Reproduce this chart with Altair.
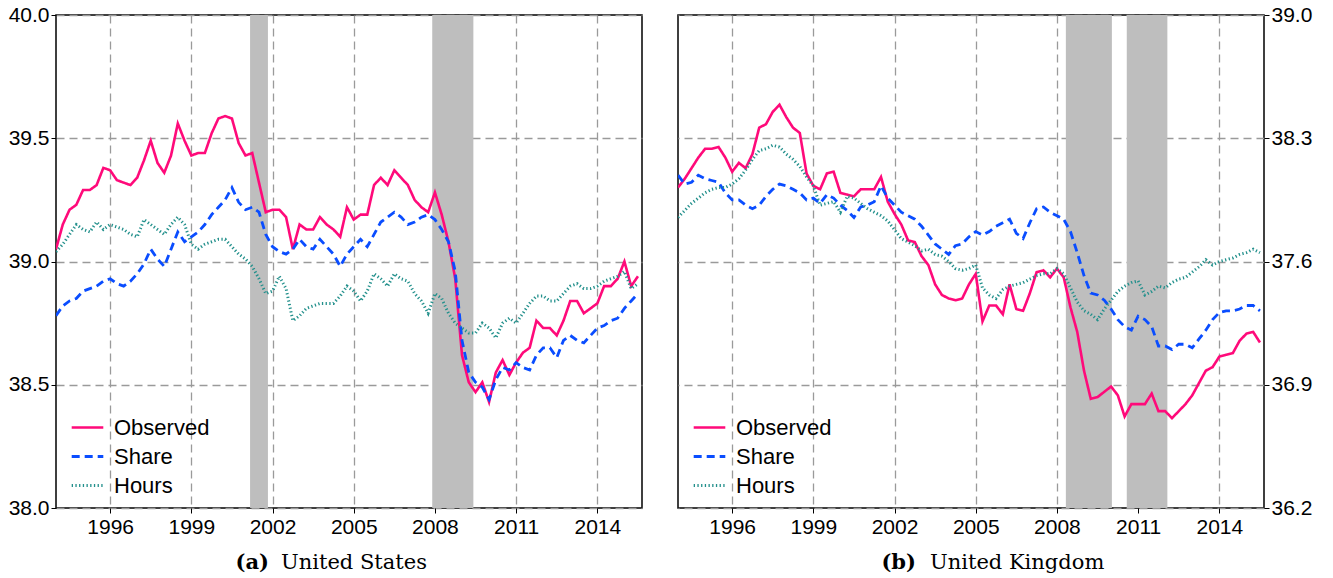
import altair as alt
import pandas as pd

# Quarterly series, 1994Q1 .. 2015Q3 (87 quarters)
START_YEAR = 1994.0
SERIES = ["Observed", "Share", "Hours"]

us_observed = [
    39.05, 39.15, 39.21, 39.23, 39.29, 39.29, 39.31, 39.38, 39.37, 39.33,
    39.32, 39.31, 39.34, 39.41, 39.49, 39.40, 39.36, 39.43, 39.56, 39.49,
    39.43, 39.44, 39.44, 39.52, 39.58, 39.59, 39.58, 39.48, 39.43, 39.44,
    39.32, 39.20, 39.21, 39.21, 39.18, 39.05, 39.15, 39.13, 39.13, 39.18,
    39.15, 39.13, 39.10, 39.22, 39.17, 39.19, 39.19, 39.31, 39.34, 39.31,
    39.37, 39.34, 39.31, 39.25, 39.22, 39.20, 39.28, 39.19, 39.08, 38.93,
    38.62, 38.51, 38.47, 38.51, 38.43, 38.55, 38.60, 38.54, 38.59, 38.63,
    38.65, 38.76, 38.73, 38.73, 38.70, 38.76, 38.84, 38.84, 38.79, 38.81,
    38.83, 38.90, 38.90, 38.93, 39.00, 38.90, 38.94,
]
us_share = [
    38.78, 38.82, 38.84, 38.85, 38.88, 38.89, 38.90, 38.92, 38.93, 38.91,
    38.90, 38.92, 38.95, 38.99, 39.05, 39.01, 38.98, 39.05, 39.12, 39.08,
    39.10, 39.12, 39.15, 39.19, 39.22, 39.25, 39.30, 39.24, 39.21, 39.22,
    39.20, 39.11, 39.06, 39.04, 39.03, 39.05, 39.09, 39.06, 39.05, 39.09,
    39.06, 39.03, 38.98, 39.03, 39.06, 39.09, 39.06, 39.11, 39.16, 39.18,
    39.20, 39.18, 39.15, 39.16, 39.18, 39.19, 39.17, 39.13, 39.08, 38.96,
    38.68, 38.55, 38.51, 38.49, 38.44, 38.52, 38.57, 38.56, 38.59, 38.57,
    38.56, 38.62, 38.65, 38.65, 38.61, 38.68, 38.70, 38.68, 38.67, 38.70,
    38.73, 38.74, 38.76, 38.77, 38.81, 38.84, 38.87,
]
us_hours = [
    39.04, 39.07, 39.11, 39.15, 39.13, 39.12, 39.16, 39.13, 39.15, 39.14,
    39.13, 39.11, 39.10, 39.17, 39.15, 39.13, 39.11, 39.15, 39.18, 39.15,
    39.07, 39.05, 39.07, 39.08, 39.09, 39.09, 39.06, 39.03, 39.01, 38.98,
    38.93, 38.87, 38.88, 38.94, 38.89, 38.76, 38.78, 38.81, 38.82, 38.83,
    38.83, 38.83, 38.86, 38.90, 38.88, 38.84, 38.88, 38.95, 38.93, 38.90,
    38.95, 38.93, 38.92, 38.87, 38.84, 38.79, 38.87, 38.85, 38.79, 38.75,
    38.73, 38.71, 38.71, 38.75, 38.73, 38.69, 38.75, 38.77, 38.75, 38.79,
    38.83, 38.86, 38.86, 38.84, 38.84, 38.87, 38.90, 38.91, 38.89, 38.89,
    38.90, 38.92, 38.93, 38.94, 38.96, 38.89, 38.91,
]

uk_observed = [
    38.02, 38.07, 38.13, 38.19, 38.24, 38.24, 38.25, 38.19, 38.11, 38.16,
    38.13, 38.21, 38.36, 38.38, 38.45, 38.49, 38.42, 38.36, 38.33, 38.10,
    38.03, 38.01, 38.10, 38.11, 37.99, 37.98, 37.97, 38.01, 38.01, 38.01,
    38.08, 37.94, 37.87, 37.81, 37.72, 37.71, 37.63, 37.58, 37.47, 37.41,
    37.39, 37.38, 37.39, 37.47, 37.53, 37.26, 37.35, 37.35, 37.30, 37.47,
    37.33, 37.32, 37.42, 37.54, 37.55, 37.51, 37.56, 37.51, 37.34, 37.20,
    36.98, 36.82, 36.83, 36.86, 36.89, 36.84, 36.72, 36.79, 36.79, 36.79,
    36.85, 36.75, 36.75, 36.71, 36.75, 36.79, 36.84, 36.91, 36.98, 37.00,
    37.06, 37.07, 37.08, 37.15, 37.19, 37.20, 37.14,
]
uk_share = [
    38.09, 38.04, 38.05, 38.09, 38.07, 38.06, 38.05, 37.99, 37.95, 37.95,
    37.92, 37.90, 37.92, 37.97, 38.01, 38.04, 38.03, 38.01, 37.99, 37.95,
    37.96, 37.93, 37.98, 37.96, 37.92, 37.89, 37.85, 37.91, 37.92, 37.94,
    38.03, 37.96, 37.92, 37.88, 37.86, 37.84, 37.80, 37.75, 37.70, 37.67,
    37.64, 37.69, 37.70, 37.74, 37.77, 37.75, 37.77, 37.80, 37.82, 37.84,
    37.76, 37.73, 37.82, 37.90, 37.91, 37.88, 37.86, 37.84, 37.77, 37.65,
    37.52, 37.42, 37.41, 37.38, 37.33, 37.27, 37.23, 37.21, 37.29, 37.27,
    37.23, 37.12, 37.12, 37.10, 37.13, 37.13, 37.11, 37.16, 37.21, 37.27,
    37.31, 37.32, 37.32, 37.33, 37.35, 37.35, 37.32,
]
uk_hours = [
    37.85, 37.89, 37.93, 37.96, 37.99, 38.01, 38.02, 38.02, 38.04, 38.07,
    38.12, 38.18, 38.23, 38.24, 38.26, 38.25, 38.21, 38.18, 38.14, 38.08,
    38.03, 37.92, 37.93, 37.94, 37.88, 37.97, 37.96, 37.93, 37.90, 37.88,
    37.86, 37.83, 37.78, 37.73, 37.71, 37.69, 37.66, 37.67, 37.64, 37.63,
    37.60, 37.56, 37.55, 37.56, 37.58, 37.45, 37.41, 37.39, 37.44, 37.46,
    37.47, 37.48, 37.50, 37.52, 37.53, 37.53, 37.56, 37.53, 37.45, 37.37,
    37.32, 37.30, 37.27, 37.33, 37.38, 37.43, 37.46, 37.48, 37.49, 37.41,
    37.43, 37.46, 37.45, 37.48, 37.50, 37.51, 37.54, 37.57, 37.61, 37.58,
    37.60, 37.61, 37.62, 37.64, 37.65, 37.67, 37.65,
]

# Recession periods (decimal years)
us_rec_start = [2001.17, 2007.90]
us_rec_end = [2001.83, 2009.42]
uk_rec_start = [2008.33, 2010.58]
uk_rec_end = [2010.03, 2012.08]

x_ticks = [1996, 1999, 2002, 2005, 2008, 2011, 2014]
us_y_ticks = [38.0, 38.5, 39.0, 39.5, 40.0]
uk_y_ticks = [36.2, 36.9, 37.6, 38.3, 39.0]

COLORS = ["#ff0a7a", "#0a4dff", "#23908c"]
DASHES = [[1, 0], [8, 5], [1.3, 2.4]]
WIDTHS = [2.6, 3.0, 1.5]

X_DOMAIN = [1994.0, 2015.65]
W, H = 586, 493
SANS = "Liberation Sans"
SERIF = "DejaVu Serif"


def long_frame(observed, share, hours):
    rows = []
    for name, vals in zip(SERIES, [observed, share, hours]):
        for i, v in enumerate(vals):
            rows.append({"year": START_YEAR + i / 4.0, "value": v, "series": name})
    return pd.DataFrame(rows)


def panel(observed, share, hours, rec_start, rec_end, y_ticks, y_orient,
          tag, caption, tag_right, caption_left):
    df = long_frame(observed, share, hours)
    rec = pd.DataFrame({"start": rec_start, "end": rec_end})
    x_scale = alt.Scale(domain=X_DOMAIN, nice=False, zero=False)
    y_scale = alt.Scale(domain=[y_ticks[0], y_ticks[-1]], nice=False, zero=False)

    shade = alt.Chart(rec).mark_rect(color="#bebebe", opacity=1).encode(
        x=alt.X("start:Q", scale=x_scale,
                axis=alt.Axis(values=x_ticks, format="d", title=None)),
        x2="end:Q",
    )

    lines = alt.Chart(df).mark_line(clip=True).encode(
        x=alt.X("year:Q", scale=x_scale),
        y=alt.Y("value:Q", scale=y_scale,
                axis=alt.Axis(values=y_ticks, format=".1f", title=None,
                              orient=y_orient)),
        color=alt.Color(
            "series:N",
            scale=alt.Scale(domain=SERIES, range=COLORS),
            legend=alt.Legend(
                orient="none", legendX=14, legendY=395, title=None,
                labelFont=SANS, labelFontSize=22, labelColor="black",
                symbolType="stroke", symbolSize=1000, symbolStrokeWidth=2.5,
                labelOffset=9, rowPadding=0, padding=0,
            ),
        ),
        strokeDash=alt.StrokeDash(
            "series:N", scale=alt.Scale(domain=SERIES, range=DASHES)),
        strokeWidth=alt.StrokeWidth(
            "series:N", scale=alt.Scale(domain=SERIES, range=WIDTHS),
            legend=None),
        order=alt.Order("year:Q"),
    )

    tag_text = alt.Chart().mark_text(
        font=SERIF, fontSize=21, fontWeight="bold", align="right",
        baseline="alphabetic", color="black",
    ).encode(x=alt.value(tag_right), y=alt.value(554), text=alt.value(tag))

    cap_text = alt.Chart().mark_text(
        font=SERIF, fontSize=21, align="left", baseline="alphabetic",
        color="black",
    ).encode(x=alt.value(caption_left), y=alt.value(554),
             text=alt.value(caption))

    return alt.layer(shade, lines, tag_text, cap_text).properties(
        width=W, height=H)


left = panel(us_observed, us_share, us_hours, us_rec_start, us_rec_end,
             us_y_ticks, "left", "(a)", "United States", 213, 225)
right = panel(uk_observed, uk_share, uk_hours, uk_rec_start, uk_rec_end,
              uk_y_ticks, "right", "(b)", "United Kingdom", 238, 252)

chart = alt.hconcat(left, right, spacing=34).resolve_scale(
    color="independent", strokeDash="independent", strokeWidth="independent"
).properties(
    padding={"left": 7, "top": 3, "right": 0, "bottom": 0},
    background="white",
).configure_view(
    stroke="black", strokeWidth=1.5,
).configure_axis(
    labelFont=SANS, labelFontSize=21, labelColor="black",
    domain=False, ticks=True, tickColor="black", tickSize=5, tickWidth=1,
    labelPadding=2,
    grid=True, gridColor="#9a9a9a", gridDash=[8, 5], gridWidth=1.3,
    gridOpacity=1,
).configure_axisX(
    labelPadding=3,
)

chart.save("out.html", embed_options={"renderer": "svg", "actions": False})
